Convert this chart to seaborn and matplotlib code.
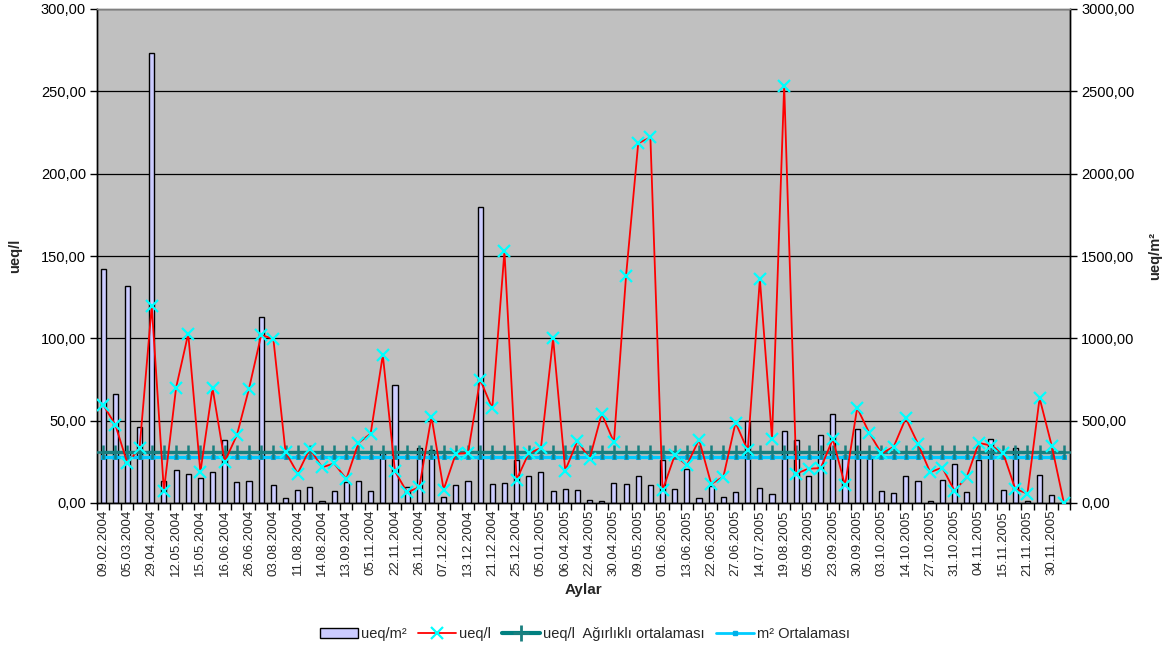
import numpy as np
import pandas as pd
import matplotlib
matplotlib.use("Agg")
import matplotlib.pyplot as plt
from matplotlib.ticker import FuncFormatter, FixedLocator
from matplotlib.lines import Line2D
from matplotlib.patches import Patch
import seaborn as sns

# ---------------- data ----------------
tick_labels = [
    "09.02.2004", "05.03.2004", "29.04.2004", "12.05.2004", "15.05.2004",
    "16.06.2004", "26.06.2004", "03.08.2004", "11.08.2004", "14.08.2004",
    "13.09.2004", "05.11.2004", "22.11.2004", "26.11.2004", "07.12.2004",
    "13.12.2004", "21.12.2004", "25.12.2004", "05.01.2005", "06.04.2005",
    "22.04.2005", "30.04.2005", "09.05.2005", "01.06.2005", "13.06.2005",
    "22.06.2005", "27.06.2005", "14.07.2005", "19.08.2005", "05.09.2005",
    "23.09.2005", "30.09.2005", "03.10.2005", "14.10.2005", "27.10.2005",
    "31.10.2005", "04.11.2005", "15.11.2005", "21.11.2005", "30.11.2005",
]

# ueq/m2 (right axis)
ueq_m2 = [
    1421, 661, 1315, 460, 2730, 134, 201, 177, 153, 186,
    385, 127, 135, 1132, 108, 33, 77, 96, 14, 72,
    125, 132, 73, 310, 718, 96, 334, 320, 36, 107,
    136, 1799, 114, 121, 262, 162, 191, 75, 83, 76,
    20, 10, 120, 116, 166, 109, 262, 85, 204, 29,
    106, 35, 66, 498, 91, 52, 437, 384, 161, 411,
    538, 285, 449, 278, 71, 60, 162, 134, 15, 139,
    234, 66, 263, 389, 77, 337, 11, 173, 48, 0,
]

# ueq/l (left axis)
ueq_l = [
    59.7, 47.6, 24.2, 33.3, 119.7, 7.4, 69.9, 102.8, 18.7, 69.8,
    25.1, 41.2, 69.5, 102.0, 99.7, 31.0, 17.9, 33.0, 21.7, 24.0,
    14.6, 36.5, 42.1, 89.9, 19.2, 6.5, 9.6, 52.4, 8.1, 29.9,
    30.3, 75.0, 57.4, 152.8, 14.2, 30.3, 33.3, 100.0, 19.7, 37.8,
    26.8, 54.2, 36.9, 138.0, 218.5, 222.0, 7.7, 28.9, 23.0, 38.5,
    11.6, 15.9, 48.8, 32.0, 136.0, 39.0, 253.5, 17.9, 20.8, 21.2,
    38.8, 10.7, 57.8, 42.5, 30.1, 34.1, 51.5, 36.0, 18.7, 21.5,
    7.5, 15.5, 36.5, 34.9, 30.4, 8.6, 5.7, 63.7, 34.7, 0.0,
]

weighted_avg_ueq_l = 30.8   # ueq/l Ağırlıklı ortalaması (left axis)
mean_ueq_m2 = 278.0         # m² Ortalaması (right axis)

n = len(ueq_l)
idx = list(range(n))
df = pd.DataFrame({
    "i": idx,
    "ueq_m2": ueq_m2,
    "ueq_l": ueq_l,
    "wavg": [weighted_avg_ueq_l] * n,
    "m2avg": [mean_ueq_m2] * n,
})

# ---------------- style ----------------
sns.set_theme(style="white")
plt.rcParams["font.family"] = ["Liberation Sans", "DejaVu Sans"]

W, H = 1172, 651
fig = plt.figure(figsize=(W / 100, H / 100), dpi=100)
ax2 = fig.add_axes([97 / W, 1 - 503 / H, (1070 - 97) / W, (503 - 9) / H])
ax = ax2.twinx()
ax.yaxis.tick_left()
ax.yaxis.set_label_position("left")
ax2.yaxis.tick_right()
ax2.yaxis.set_label_position("right")

ax2.set_facecolor("#C0C0C0")
ax.patch.set_visible(False)

# bars (ueq/m2) on right scale
sns.barplot(data=df, x="i", y="ueq_m2", ax=ax2, color="#CCCCFF",
            edgecolor="black", linewidth=1.0, width=0.42, saturation=1)

# gridlines
for v in range(500, 3001, 500):
    ax2.axhline(v, color="black", lw=0.9, zorder=0.5)

# average lines
sns.lineplot(data=df, x="i", y="m2avg", ax=ax2, color="#00CCFF", lw=2.4,
             marker="s", markersize=3.2, markerfacecolor="#00B0E8",
             markeredgecolor="#00B0E8", zorder=3)
sns.lineplot(data=df, x="i", y="wavg", ax=ax, color="#008080", lw=2.4,
             marker="+", markersize=10, markeredgewidth=1.8,
             markeredgecolor="#1A7F7F", zorder=3)
# ueq/l line
sns.lineplot(data=df, x="i", y="ueq_l", ax=ax, color="#FF0000", lw=1.3,
             marker="x", markersize=8, markeredgewidth=1.6,
             markeredgecolor="#00FFFF", zorder=4)

ax.set_ylim(0, 300)
ax2.set_ylim(0, 3000)
ax.set_xlim(-0.5, n - 0.5)
ax2.set_xlim(-0.5, n - 0.5)

fmt = FuncFormatter(lambda v, p: f"{v:.2f}".replace(".", ","))
ax.yaxis.set_major_locator(FixedLocator(np.arange(0, 301, 50)))
ax2.yaxis.set_major_locator(FixedLocator(np.arange(0, 3001, 500)))
ax.yaxis.set_major_formatter(fmt)
ax2.yaxis.set_major_formatter(fmt)

ax.tick_params(axis="y", which="major", direction="out", length=5, width=1,
               labelsize=10.5, colors="black", left=True, right=False,
               labelleft=True, labelright=False, pad=3)
ax2.tick_params(axis="y", which="major", direction="out", length=5, width=1,
                labelsize=10.5, colors="black", right=True, left=False,
                labelright=True, labelleft=False, pad=3)

# x ticks: labels every 2nd category, tick marks at category boundaries
ax2.set_xticks(idx[::2])
ax2.set_xticklabels(tick_labels, rotation=90, fontsize=9.5)
ax2.set_xticks(np.arange(-0.5, n, 1.0), minor=True)
ax2.tick_params(axis="x", which="major", length=0, pad=5)
ax2.tick_params(axis="x", which="minor", length=5, width=1, direction="out",
                bottom=True, color="black")
ax.tick_params(axis="x", which="both", bottom=False, labelbottom=False)

for a in (ax, ax2):
    for s in a.spines.values():
        s.set_color("black")
        s.set_linewidth(1)
ax2.spines["top"].set_color("#808080")
ax.spines["top"].set_color("#808080")
ax2.grid(False)
ax.grid(False)

ax.set_ylabel("")
ax2.set_ylabel("")
fig.text(15 / W, 1 - 256 / H, "ueq/l", rotation=90, ha="center", va="center",
         fontsize=10.5, fontweight="bold")
fig.text(1155 / W, 1 - 256 / H, "ueq/m²", rotation=90, ha="center", va="center",
         fontsize=10.5, fontweight="bold")
ax2.set_xlabel("Aylar", fontsize=11, fontweight="bold", labelpad=5)

handles = [
    Patch(facecolor="#CCCCFF", edgecolor="black", linewidth=1),
    Line2D([0], [0], color="#FF0000", lw=1.3, marker="x", markersize=8,
           markeredgewidth=1.6, markeredgecolor="#00FFFF"),
    Line2D([0], [0], color="#008080", lw=3, marker="+", markersize=11,
           markeredgewidth=2, markeredgecolor="#1A7F7F"),
    Line2D([0], [0], color="#00CCFF", lw=2, marker="s", markersize=3.5,
           markerfacecolor="#00B0E8", markeredgecolor="#00B0E8"),
]
labels = ["ueq/m²", "ueq/l", "ueq/l  Ağırlıklı ortalaması", "m² Ortalaması"]
fig.legend(handles, labels, loc="center", bbox_to_anchor=(585 / W, 1 - 634 / H),
           ncol=4, frameon=False, fontsize=10.5, handlelength=2.6,
           handletextpad=0.2, columnspacing=0.8)

fig.savefig("out.png", dpi=100, facecolor="white")
